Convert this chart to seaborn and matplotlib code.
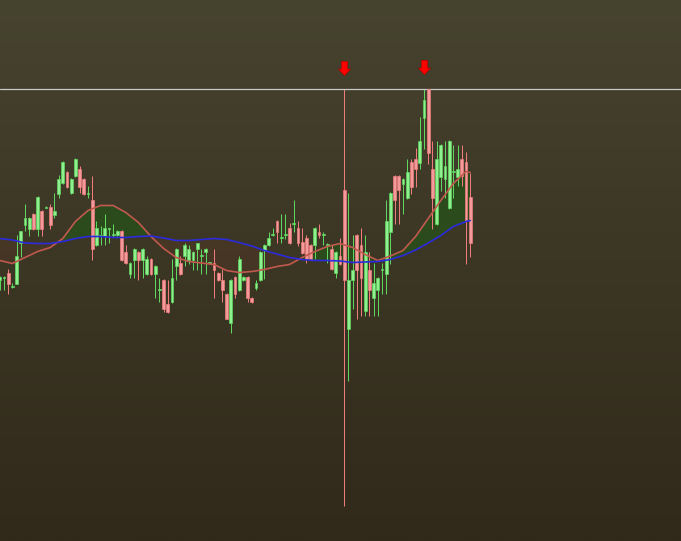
import numpy as np
import pandas as pd
import matplotlib
matplotlib.use("Agg")
import matplotlib.pyplot as plt
from matplotlib.colors import LinearSegmentedColormap
from matplotlib.path import Path
import seaborn as sns

# OHLC, one entry per candle (oldest first)
opens = [1121, 1123, 1128, 1114, 1117, 1158, 1176, 1172, 1187, 1172,
         1190, 1193, 1194, 1186, 1207, 1218, 1229, 1208, 1225, 1232,
         1222, 1207, 1201, 1156, 1165, 1165, 1172, 1166, 1166, 1170,
         1149, 1127, 1141, 1149, 1141, 1127, 1142, 1127, 1111, 1121,
         1097, 1099, 1135, 1138, 1145, 1141, 1141, 1152, 1145, 1149,
         1138, 1138, 1128, 1121, 1107, 1078, 1124, 1111, 1121, 1124,
         1103, 1113, 1121, 1151, 1156, 1166, 1180, 1163, 1166, 1173,
         1177, 1173, 1159, 1163, 1156, 1156, 1169, 1166, 1156, 1152,
         1128, 1145, 1211, 1072, 1121, 1166, 1156, 1090, 1131, 1103,
         1111, 1131, 1127, 1169, 1225, 1225, 1217, 1203, 1239, 1242,
         1238, 1283, 1312, 1232, 1177, 1224, 1222, 1193, 1229, 1224,
         1242, 1239, 1204]
highs = [1125, 1125, 1132, 1118, 1166, 1170, 1197, 1184, 1188, 1205,
         1191, 1195, 1197, 1208, 1226, 1240, 1230, 1223, 1243, 1235,
         1223, 1215, 1225, 1180, 1175, 1187, 1173, 1177, 1171, 1171,
         1156, 1139, 1153, 1150, 1153, 1145, 1143, 1136, 1123, 1122,
         1121, 1142, 1153, 1145, 1158, 1156, 1150, 1158, 1152, 1153,
         1139, 1152, 1129, 1132, 1108, 1122, 1125, 1145, 1125, 1125,
         1104, 1121, 1150, 1157, 1169, 1173, 1181, 1187, 1187, 1178,
         1201, 1180, 1173, 1166, 1157, 1174, 1177, 1169, 1158, 1156,
         1150, 1163, 1312, 1208, 1166, 1167, 1173, 1166, 1149, 1138,
         1124, 1138, 1201, 1209, 1226, 1226, 1223, 1242, 1242, 1253,
         1284, 1312, 1312, 1260, 1260, 1257, 1260, 1261, 1256, 1256,
         1256, 1249, 1228]
lows = [1111, 1111, 1107, 1113, 1117, 1144, 1170, 1165, 1171, 1165,
        1165, 1193, 1172, 1183, 1203, 1217, 1213, 1207, 1224, 1208,
        1206, 1203, 1141, 1155, 1156, 1156, 1158, 1164, 1165, 1140,
        1137, 1123, 1123, 1121, 1123, 1126, 1126, 1103, 1099, 1089,
        1088, 1098, 1121, 1126, 1135, 1137, 1131, 1131, 1127, 1127,
        1137, 1103, 1120, 1099, 1082, 1068, 1103, 1110, 1120, 1099,
        1098, 1111, 1120, 1122, 1155, 1165, 1158, 1158, 1162, 1157,
        1169, 1155, 1147, 1138, 1141, 1142, 1163, 1156, 1138, 1131,
        1123, 1136, 895, 1020, 1092, 1082, 1085, 1085, 1085, 1085,
        1085, 1107, 1107, 1137, 1177, 1177, 1187, 1202, 1207, 1214,
        1232, 1252, 1237, 1172, 1176, 1210, 1203, 1192, 1203, 1215,
        1215, 1137, 1144]
closes = [1124, 1124, 1117, 1115, 1145, 1170, 1183, 1183, 1172, 1204,
          1172, 1194, 1176, 1190, 1222, 1239, 1214, 1222, 1242, 1214,
          1207, 1208, 1152, 1173, 1166, 1173, 1173, 1167, 1170, 1141,
          1138, 1138, 1152, 1141, 1152, 1142, 1127, 1135, 1112, 1092,
          1089, 1123, 1152, 1127, 1156, 1152, 1149, 1158, 1146, 1152,
          1139, 1131, 1121, 1111, 1082, 1121, 1107, 1142, 1124, 1103,
          1099, 1118, 1149, 1156, 1163, 1167, 1169, 1164, 1167, 1158,
          1178, 1158, 1148, 1142, 1142, 1173, 1166, 1167, 1157, 1132,
          1149, 1137, 1121, 1121, 1131, 1131, 1123, 1149, 1111, 1118,
          1123, 1132, 1180, 1208, 1201, 1211, 1222, 1229, 1214, 1232,
          1260, 1301, 1248, 1203, 1242, 1256, 1235, 1260, 1230, 1232,
          1225, 1180, 1158]

# moving averages, read every third bar
ma_idx = [0, 3, 6, 9, 12, 15, 18, 21, 24, 27, 30, 33, 36, 39, 42, 45, 48, 51, 54,
          57, 60, 63, 66, 69, 72, 75, 78, 81, 84, 87, 90, 93, 96, 99, 102, 105,
          108, 111, 112]
ma_fast = [1140, 1137, 1143, 1149, 1153, 1162, 1179, 1190, 1195, 1195, 1188, 1178,
           1164, 1152, 1143, 1139, 1137.5, 1136, 1130, 1128, 1129, 1131, 1134, 1136,
           1143, 1149, 1154, 1157, 1153, 1146, 1140, 1144.5, 1150, 1164, 1182, 1200,
           1217, 1229, 1228]
ma_slow = [1162, 1160.5, 1157.5, 1157, 1157, 1159, 1162, 1164, 1164, 1163, 1163, 1164,
           1164.5, 1162.5, 1160, 1160, 1161, 1162, 1161, 1158, 1154.5, 1150, 1146.5, 1143,
           1141, 1140, 1140, 1139.5, 1138, 1138.5, 1139, 1141, 1145, 1150.5, 1157.5, 1165,
           1174, 1179, 1180]

top_level = 1312
arrow_idx = [82, 101]
arrow_price = [1332.5, 1333.5]


def main():
    sns.set_style("dark")
    fig = plt.figure(figsize=(6.81, 5.41), dpi=100)
    ax = fig.add_axes([0, 0, 1, 1])
    ax.set_axis_off()

    # vertical background gradient
    grad = np.linspace(0, 1, 256).reshape(-1, 1)
    bg = LinearSegmentedColormap.from_list("bg", ["#46432f", "#31291a"])
    ax.imshow(grad, cmap=bg, aspect="auto", extent=[0, 1, 0, 1],
              transform=ax.transAxes, zorder=0)

    df = pd.DataFrame({"open": opens, "high": highs, "low": lows, "close": closes})
    df["idx"] = np.arange(len(df))
    df["up"] = df["close"] >= df["open"]

    # MA cloud
    fast = np.array(ma_fast)
    slow = np.array(ma_slow)
    ax.fill_between(ma_idx, fast, slow, where=fast >= slow, interpolate=True,
                    color="#2b4b1d", lw=0, zorder=1)
    ax.fill_between(ma_idx, fast, slow, where=fast < slow, interpolate=True,
                    color="#6a3424", alpha=0.22, lw=0, zorder=1)

    for up, face, edge in [(True, "#8ef08e", "#5fd65f"), (False, "#f49a9a", "#ee7c7c")]:
        d = df[df["up"] == up]
        ax.vlines(d["idx"], d["low"], d["high"], colors=edge, lw=0.72, zorder=2)
        bottom = d[["open", "close"]].min(axis=1)
        height = (d["close"] - d["open"]).abs().clip(lower=0.8)
        ax.bar(d["idx"], height, bottom=bottom, width=0.64, color=face,
               edgecolor=edge, linewidth=0.5, zorder=3)

    sns.lineplot(x=ma_idx, y=ma_fast, color="#c0594e", lw=1.2, ax=ax, zorder=4)
    sns.lineplot(x=ma_idx, y=ma_slow, color="#2b2bdc", lw=1.2, ax=ax, zorder=4)

    ax.axhline(top_level, color="#c9c9c9", lw=0.9, zorder=2)

    arrow = Path([(-0.44, 1), (0.44, 1), (0.44, -0.08), (0.85, -0.08), (0, -1),
                  (-0.85, -0.08), (-0.44, -0.08), (-0.44, 1)])
    ax.scatter(arrow_idx, arrow_price, marker=arrow, s=105, color="#ff0000",
               edgecolors="#b40000", linewidths=0.5, zorder=5)

    ax.set_xlim(0.048, 162.19)
    ax.set_ylim(859.5, 1400.5)
    fig.savefig("out.png", dpi=100)
    plt.close(fig)


if __name__ == "__main__":
    main()
